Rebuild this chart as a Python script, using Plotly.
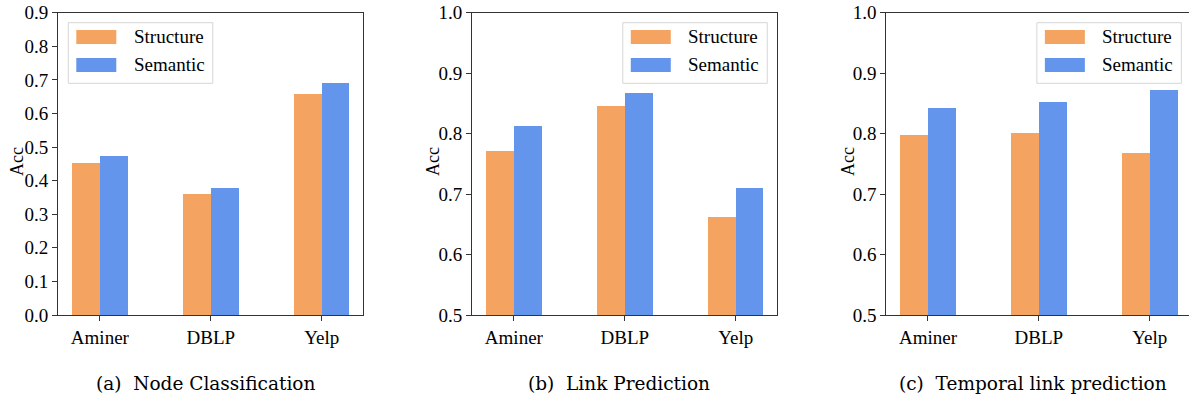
import plotly.graph_objects as go

# ---------------- data ----------------
categories = ["Aminer", "DBLP", "Yelp"]
series_names = ["Structure", "Semantic"]

node_structure = [0.452, 0.360, 0.658]
node_semantic = [0.473, 0.377, 0.691]

link_structure = [0.771, 0.846, 0.662]
link_semantic = [0.813, 0.867, 0.710]

temporal_structure = [0.798, 0.801, 0.768]
temporal_semantic = [0.842, 0.852, 0.872]

captions = ["(a)  Node Classification", "(b)  Link Prediction", "(c)  Temporal link prediction"]
y_label = "Acc"
y_ranges = [[0.0, 0.9], [0.5, 1.0], [0.5, 1.0]]
y_tick_vals = [
    [0.0, 0.1, 0.2, 0.3, 0.4, 0.5, 0.6, 0.7, 0.8, 0.9],
    [0.5, 0.6, 0.7, 0.8, 0.9, 1.0],
    [0.5, 0.6, 0.7, 0.8, 0.9, 1.0],
]

# ---------------- style ----------------
SCREEN_W = 1189
OFF = 0
W, H = 1189, 399
colors = ["#F4A460", "#6495ED"]
FONT = "Liberation Serif, Times New Roman, serif"
CAP_FONT = "DejaVu Serif, serif"

ax_left = [58.3, 472.3, 886.4]   # screen pixel coords
unit = 110.9
ax_top, ax_bot = 12.7, 315.0
legend_side = ["left", "right", "right"]
caption_cx = [205, 619, 1033]
acc_x = [17, 433, 848]

panels = [
    (node_structure, node_semantic),
    (link_structure, link_semantic),
    (temporal_structure, temporal_semantic),
]

fig = go.Figure()
shapes = []
annotations = []

def px(x):
    return (x - OFF) / W

def py(y):
    return 1 - (y - OFF) / H

for i, (s_vals, m_vals) in enumerate(panels):
    n = i + 1
    xa = "x" if n == 1 else f"x{n}"
    ya = "y" if n == 1 else f"y{n}"
    x0 = ax_left[i]
    x1_full = x0 + 2.75 * unit
    x1 = min(x1_full, SCREEN_W)
    r_hi = -0.375 + (x1 - x0) / unit

    for k, vals in enumerate([s_vals, m_vals]):
        fig.add_trace(go.Bar(
            x=list(range(len(categories))), y=vals,
            width=0.25, offset=-0.25 if k == 0 else 0.0,
            marker=dict(color=colors[k], line=dict(width=0)),
            name=series_names[k], showlegend=False,
            xaxis=xa, yaxis=ya,
        ))

    xkey = "xaxis" if n == 1 else f"xaxis{n}"
    ykey = "yaxis" if n == 1 else f"yaxis{n}"
    fig.update_layout(**{
        xkey: dict(
            domain=[px(x0), min(px(x1), 1.0)], anchor=ya, range=[-0.375, r_hi],
            tickmode="array", tickvals=list(range(len(categories))), ticktext=categories,
            showline=True, linecolor="#333", linewidth=1.2, mirror=True,
            ticks="outside", ticklen=5, tickcolor="#333", showgrid=False, zeroline=False,
            tickfont=dict(family=FONT, size=19, color="black"), automargin=False,
            ticklabeloverflow="allow",
        ),
        ykey: dict(
            domain=[py(ax_bot), py(ax_top)], anchor=xa, range=y_ranges[i],
            tickmode="array", tickvals=y_tick_vals[i],
            ticktext=[f"{v:.1f}" for v in y_tick_vals[i]],
            showline=True, linecolor="#333", linewidth=1.2,
            mirror=(x1_full <= SCREEN_W),
            ticks="outside", ticklen=5, tickcolor="#333", showgrid=False, zeroline=False,
            tickfont=dict(family=FONT, size=19, color="black"), automargin=False,
            ticklabeloverflow="allow",
        ),
    })

    # legend box (manual, matplotlib style)
    if legend_side[i] == "left":
        bx0 = x0 + 10
    else:
        bx0 = x1_full - 10 - 144.5
    bx1 = bx0 + 144.5
    shapes.append(dict(type="rect", xref="paper", yref="paper",
                       x0=px(bx0), x1=px(bx1), y0=py(83.3), y1=py(22.7),
                       line=dict(color="#d6d6d6", width=1), fillcolor="rgba(255,255,255,0.8)",
                       layer="above"))
    for k in range(2):
        yc = 37 + 28 * k
        shapes.append(dict(type="rect", xref="paper", yref="paper",
                           x0=px(bx0 + 8), x1=px(bx0 + 48), y0=py(yc + 7), y1=py(yc - 7),
                           line=dict(width=0), fillcolor=colors[k], layer="above"))
        annotations.append(dict(xref="paper", yref="paper", x=px(bx0 + 63.5), y=py(yc),
                                xanchor="left", yanchor="middle", showarrow=False,
                                text=series_names[k],
                                font=dict(family=FONT, size=19, color="black")))

    # y label
    annotations.append(dict(xref="paper", yref="paper", x=px(acc_x[i]), y=py(162),
                            xanchor="center", yanchor="middle", showarrow=False,
                            text=y_label, textangle=-90,
                            font=dict(family=FONT, size=18, color="black")))
    # caption
    annotations.append(dict(xref="paper", yref="paper", x=px(caption_cx[i]), y=py(383),
                            xanchor="center", yanchor="middle", showarrow=False,
                            text=captions[i],
                            font=dict(family=CAP_FONT, size=18.5, color="black")))

fig.update_layout(
    width=W, height=H, margin=dict(l=0, r=0, t=0, b=0),
    paper_bgcolor="white", plot_bgcolor="white",
    shapes=shapes, annotations=annotations, showlegend=False,
    barmode="overlay", bargap=0,
)

fig.write_html(
    "out.html",
    config={"displayModeBar": False, "staticPlot": True},
    post_script="document.body.style.margin='0px';document.body.style.overflow='hidden';",
)
